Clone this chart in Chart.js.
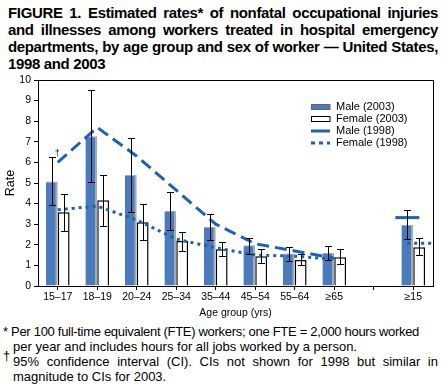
<!DOCTYPE html>
<html>
<head>
<meta charset="utf-8">
<script src="https://cdn.jsdelivr.net/npm/chart.js@4/dist/chart.umd.min.js"></script>
<style>
  body { margin: 0; background: #fff; width: 441px; height: 390px; position: relative; overflow: hidden;
         font-family: 'Liberation Sans', Arial, sans-serif; color: #000; }
  #title { position: absolute; left: 8px; top: 4px; width: 430px; font-weight: bold; font-size: 15px;
           line-height: 17px; letter-spacing: -0.35px; }
  #title div { text-align: justify; text-align-last: justify; }
  #title div.last { text-align-last: left; }
  #wrap { position: absolute; left: 0; top: 70px; width: 441px; height: 250px; }
  #notes { position: absolute; left: 3px; top: 324px; width: 435px; font-size: 13px; line-height: 15px; }
  #notes div { position: relative; }
  #notes .ind { padding-left: 10px; }
  #notes .just { text-align: justify; text-align-last: justify; }
  #notes .mk { position: absolute; left: 0; top: -6px; }
</style>
</head>
<body>
<div id="title">
  <div>FIGURE 1. Estimated rates* of nonfatal occupational injuries</div>
  <div>and illnesses among workers treated in hospital emergency</div>
  <div>departments, by age group and sex of worker — United States,</div>
  <div class="last">1998 and 2003</div>
</div>
<div id="wrap"><canvas id="chart" width="441" height="250"></canvas></div>
<div id="notes">
  <div style="letter-spacing:-0.3px;white-space:nowrap">* Per 100 full-time equivalent (FTE) workers; one FTE = 2,000 hours worked</div>
  <div class="ind">per year and includes hours for all jobs worked by a person.</div>
  <div class="ind just"><span class="mk">†</span>95% confidence interval (CI). CIs not shown for 1998 but similar in</div>
  <div class="ind">magnitude to CIs for 2003.</div>
</div>
<script>
Chart.defaults.font.family = "'Liberation Sans', Arial, sans-serif";
Chart.defaults.color = '#000';

// data
const ageGroups = ['15–17', '18–19', '20–24', '25–34', '35–44', '45–54', '55–64', '≥65', '', '≥15'];
const male2003 = [5.07, 7.27, 5.4, 3.64, 2.86, 1.98, 1.58, 1.6, null, 2.96];
const male2003Lo = [3.92, 5.03, 3.58, 2.7, 2.23, 1.55, 1.23, 1.26, null, 2.27];
const male2003Hi = [6.25, 9.53, 7.2, 4.58, 3.48, 2.35, 1.88, 1.93, null, 3.67];
const female2003 = [3.58, 4.16, 3.09, 2.18, 1.78, 1.44, 1.26, 1.39, null, 1.88];
const female2003Lo = [2.65, 2.9, 2.22, 1.71, 1.44, 1.13, 1.0, 1.05, null, 1.49];
const female2003Hi = [4.45, 5.37, 3.97, 2.62, 2.12, 1.78, 1.54, 1.78, null, 2.32];
const male1998 = [6.0, 7.7, 6.3, 4.65, 3.0, 2.05, 1.7, 1.35, null, 3.32];
const female1998 = [3.7, 3.88, 3.2, 2.28, 1.85, 1.5, 1.45, 1.3, null, 2.07];
const rateTicks = [0, 1, 2, 3, 4, 5, 6, 7, 8, 9, 10];

const barBlue = '#4a7bbd';
const lineBlue = '#1c62b0';

// the last point of each 1998 series stands alone; drop it from the line
const lineData = arr => arr.map((v, i) => i === arr.length - 1 ? null : v);

const data = {
    labels: ageGroups,
    datasets: [
        { type: 'line', label: 'Male (1998)', data: lineData(male1998), full: male1998, bar: 0,
          borderColor: lineBlue, borderWidth: 3, borderDash: [12, 6], pointRadius: 0, order: 0 },
        { type: 'line', label: 'Female (1998)', data: lineData(female1998), full: female1998, bar: 1,
          borderColor: lineBlue, borderWidth: 3, borderDash: [3, 4], pointRadius: 0, order: 0 },
        { type: 'bar', label: 'Male (2003)', data: male2003, lo: male2003Lo, hi: male2003Hi,
          backgroundColor: barBlue, borderColor: '#a8a8a8',
          borderWidth: { top: 1, right: 2, left: 0, bottom: 0 }, borderSkipped: false, order: 1 },
        { type: 'bar', label: 'Female (2003)', data: female2003, lo: female2003Lo, hi: female2003Hi,
          backgroundColor: '#fff', borderColor: '#000',
          borderWidth: { top: 1.5, right: 1.5, left: 1.5, bottom: 0 }, borderSkipped: false, order: 1 }
    ]
};

// error bars, lone 1998 marks, frame, legend
const extras = {
    id: 'extras',
    afterDatasetsDraw(chart) {
        const ctx = chart.ctx, y = chart.scales.y, a = chart.chartArea;
        ctx.save();
        // short marks for the >=15 1998 values, centred on the matching bar
        [0, 1].forEach(di => {
            const ds = chart.data.datasets[di];
            const last = ds.full.length - 1;
            const barMeta = chart.getDatasetMeta(ds.bar + 2);
            const cx = barMeta.data[last].x;
            const py = y.getPixelForValue(ds.full[last]);
            ctx.strokeStyle = ds.borderColor;
            ctx.lineWidth = ds.borderWidth;
            ctx.setLineDash(di === 0 ? [] : ds.borderDash);
            ctx.beginPath();
            ctx.moveTo(cx - 12, py);
            ctx.lineTo(cx + 12, py);
            ctx.stroke();
        });
        ctx.setLineDash([]);
        // 95% CI whiskers
        ctx.strokeStyle = '#000';
        ctx.lineWidth = 1;
        [2, 3].forEach(di => {
            const ds = chart.data.datasets[di];
            chart.getDatasetMeta(di).data.forEach((bar, i) => {
                if (ds.hi[i] == null) return;
                const x = Math.round(bar.x) + 0.5;
                const yh = Math.round(y.getPixelForValue(ds.hi[i])) + 0.5;
                const yl = Math.round(y.getPixelForValue(ds.lo[i])) + 0.5;
                ctx.beginPath();
                ctx.moveTo(x, yh); ctx.lineTo(x, yl);
                ctx.moveTo(x - 3.5, yh); ctx.lineTo(x + 3.5, yh);
                ctx.moveTo(x - 3.5, yl); ctx.lineTo(x + 3.5, yl);
                ctx.stroke();
            });
        });
        // dagger on the first whisker
        const b0 = chart.getDatasetMeta(2).data[0];
        ctx.fillStyle = '#000';
        ctx.font = "9px 'Liberation Sans', Arial, sans-serif";
        ctx.textAlign = 'left';
        ctx.textBaseline = 'bottom';
        ctx.fillText('†', b0.x + 3, y.getPixelForValue(male2003Hi[0]) + 1);
        // frame
        ctx.beginPath();
        ctx.moveTo(a.left, a.top + 0.5); ctx.lineTo(a.right + 0.5, a.top + 0.5); ctx.lineTo(a.right + 0.5, a.bottom);
        ctx.stroke();
        // legend
        const lx = a.right - 122, ly = a.top + 27;
        ctx.font = "11px 'Liberation Sans', Arial, sans-serif";
        ctx.textBaseline = 'middle';
        const order = [2, 3, 0, 1];
        order.forEach((di, k) => {
            const ds = chart.data.datasets[di];
            const yy = ly + k * 12;
            if (ds.type === 'bar') {
                ctx.fillStyle = ds.backgroundColor;
                ctx.fillRect(lx, yy - 2.5, 19, 5);
                ctx.strokeStyle = di === 2 ? '#666' : '#000';
                ctx.lineWidth = 1;
                ctx.strokeRect(lx + 0.5, yy - 2.5, 18.5, 5);
            } else {
                ctx.strokeStyle = ds.borderColor;
                ctx.lineWidth = 3;
                ctx.setLineDash(di === 0 ? [] : [4, 4]);
                ctx.beginPath();
                ctx.moveTo(lx, yy); ctx.lineTo(lx + 19, yy);
                ctx.stroke();
                ctx.setLineDash([]);
            }
            ctx.fillStyle = '#000';
            ctx.fillText(ds.label, lx + 25, yy);
        });
        ctx.restore();
    }
};

const options = {
    responsive: false,
    devicePixelRatio: 1,
    animation: false,
    layout: { padding: { top: 10, right: 8, left: 0, bottom: 0 } },
    datasets: { bar: { categoryPercentage: 0.6, barPercentage: 1.0 } },
    plugins: { legend: { display: false }, tooltip: { enabled: false } },
    scales: {
        x: {
            grid: { offset: false, drawOnChartArea: false, tickLength: 4, color: '#000', tickColor: '#000' },
            border: { color: '#000', width: 1 },
            ticks: { padding: 1, font: { size: 10.5 }, maxRotation: 0, autoSkip: false },
            title: { display: true, text: 'Age group (yrs)', font: { size: 10.5 }, padding: { top: 0, bottom: 1 } },
            afterFit: s => { s.height = 34; }
        },
        y: {
            min: 0, max: 10,
            afterBuildTicks: s => { s.ticks = rateTicks.map(v => ({ value: v })); },
            grid: { drawOnChartArea: false, tickLength: 4, color: '#000', tickColor: '#000' },
            border: { color: '#000', width: 1 },
            ticks: { padding: 3, font: { size: 10.5 } },
            title: { display: true, text: 'Rate', font: { size: 12.5 }, padding: { top: 3, bottom: 0 } },
            afterFit: s => { s.width = 38; }
        }
    }
};

const config = {
    type: 'bar',
    data: data,
    options,
    plugins: [extras]
};

const chart = new Chart(document.getElementById('chart'), config);
</script>
</body>
</html>
